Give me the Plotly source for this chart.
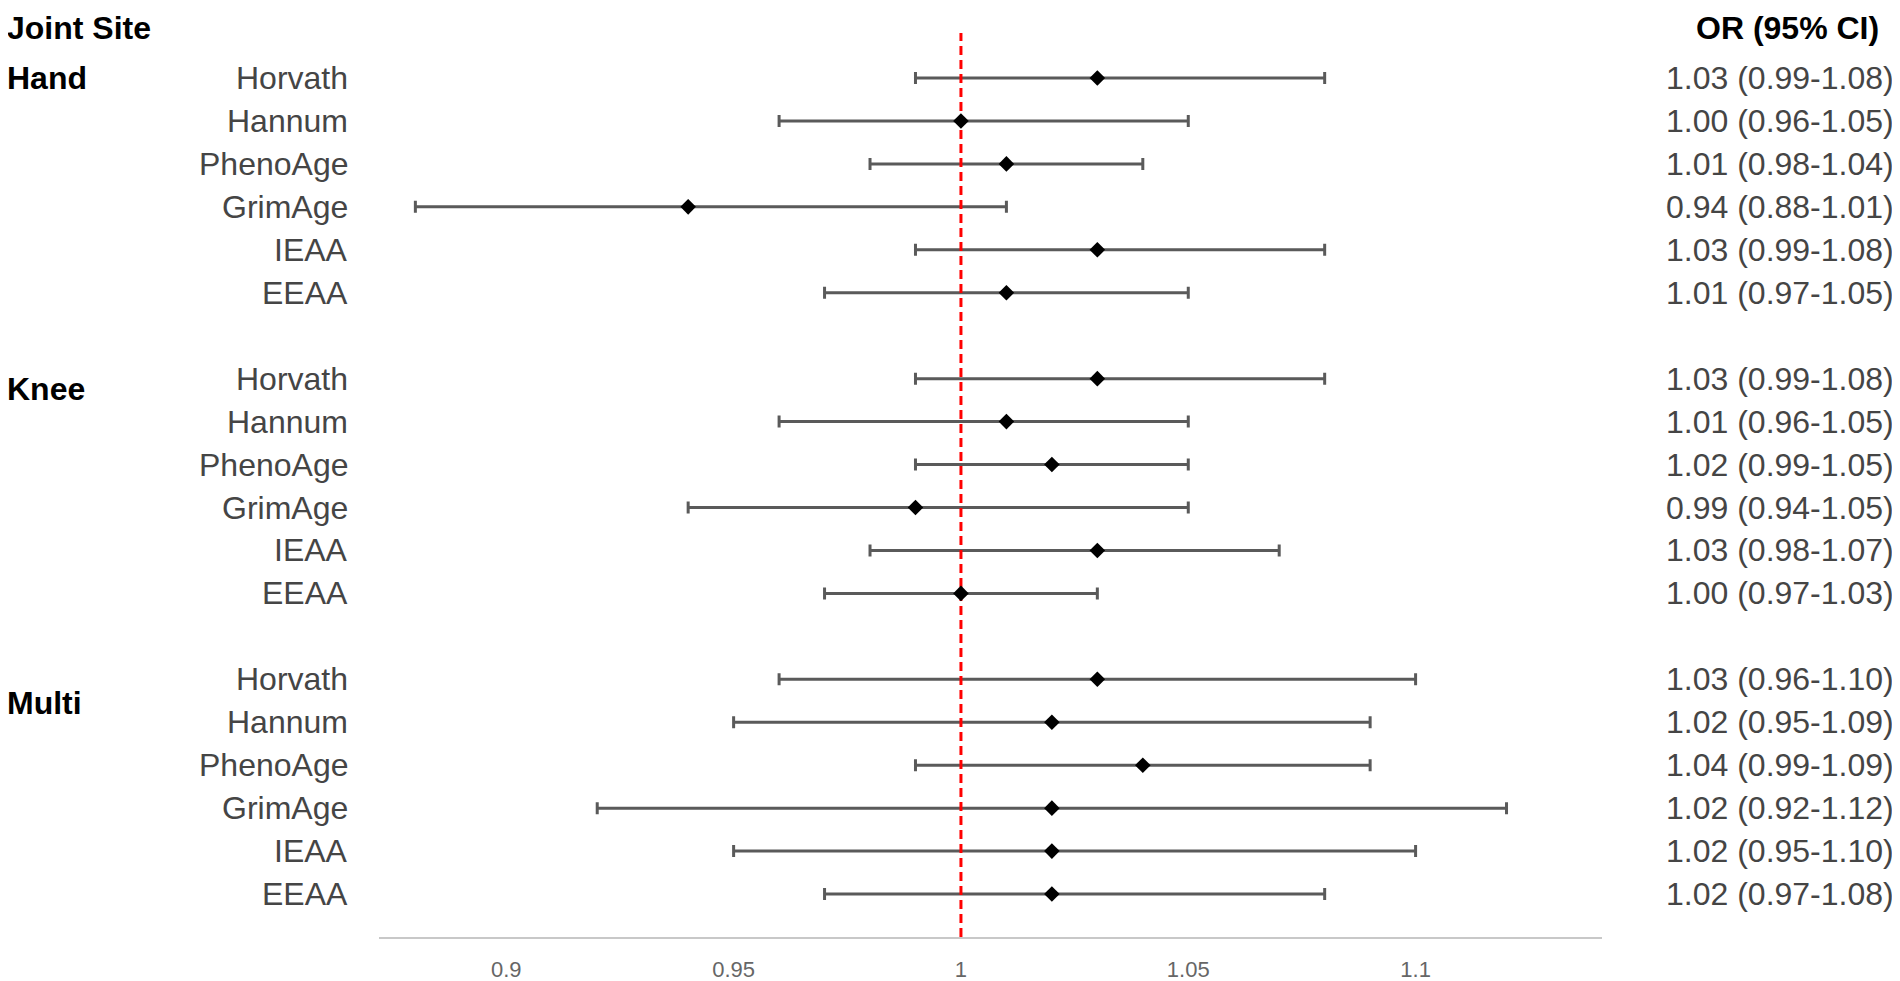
import plotly.graph_objects as go

# ---- data ----
groups = ["Hand", "Knee", "Multi"]
methods = ["Horvath", "Hannum", "PhenoAge", "GrimAge", "IEAA", "EEAA"]
hand_or = [1.03, 1.00, 1.01, 0.94, 1.03, 1.01]
hand_lo = [0.99, 0.96, 0.98, 0.88, 0.99, 0.97]
hand_hi = [1.08, 1.05, 1.04, 1.01, 1.08, 1.05]
knee_or = [1.03, 1.01, 1.02, 0.99, 1.03, 1.00]
knee_lo = [0.99, 0.96, 0.99, 0.94, 0.98, 0.97]
knee_hi = [1.08, 1.05, 1.05, 1.05, 1.07, 1.03]
multi_or = [1.03, 1.02, 1.04, 1.02, 1.02, 1.02]
multi_lo = [0.96, 0.95, 0.99, 0.92, 0.95, 0.97]
multi_hi = [1.10, 1.09, 1.09, 1.12, 1.10, 1.08]
x_ticks = [0.9, 0.95, 1, 1.05, 1.1]
x_tick_labels = ["0.9", "0.95", "1", "1.05", "1.1"]
ref_value = 1.0

series = [(hand_or, hand_lo, hand_hi), (knee_or, knee_lo, knee_hi), (multi_or, multi_lo, multi_hi)]
group_label_offset = [0.0, 0.24, 0.55]

rows, ors, los, his, names, texts = [], [], [], [], [], []
group_rows = []
for g, (o, lo, hi) in enumerate(series):
    start = g * (len(methods) + 1)
    group_rows.append(start + group_label_offset[g])
    for i, m in enumerate(methods):
        rows.append(start + i)
        ors.append(o[i])
        los.append(lo[i])
        his.append(hi[i])
        names.append(m)
        texts.append(f"{o[i]:.2f} ({lo[i]:.2f}-{hi[i]:.2f})")

FONT = "Liberation Sans, Arial, Helvetica, sans-serif"
y_range = [20.0, -1.048]
x_range = [0.872, 1.141]

fig = go.Figure()
# error bars
fig.add_trace(go.Scatter(
    x=ors, y=rows, mode="markers",
    marker=dict(size=1, color="rgba(0,0,0,0)"),
    error_x=dict(type="data", symmetric=False,
                 array=[h - o for h, o in zip(his, ors)],
                 arrayminus=[o - l for o, l in zip(ors, los)],
                 color="#5a5a5a", thickness=3, width=6),
    hoverinfo="skip", showlegend=False))
# reference line
fig.add_trace(go.Scatter(
    x=[ref_value, ref_value], y=y_range, mode="lines",
    line=dict(color="#ff0000", width=3, dash="9px,5px"),
    hoverinfo="skip", showlegend=False))
# point estimates
fig.add_trace(go.Scatter(
    x=ors, y=rows, mode="markers",
    marker=dict(symbol="diamond", size=12, color="black"),
    showlegend=False))

ann = []
for r, n, t in zip(rows, names, texts):
    ann.append(dict(x=0, xref="paper", y=r, yref="y", text=n, showarrow=False,
                    xanchor="right", yanchor="middle", xshift=-29,
                    font=dict(family=FONT, size=32, color="#454545")))
    ann.append(dict(x=1, xref="paper", y=r, yref="y", text=t, showarrow=False,
                    xanchor="right", yanchor="middle", xshift=294,
                    font=dict(family=FONT, size=32, color="#454545")))
for g, gr in zip(groups, group_rows):
    ann.append(dict(x=0, xref="paper", y=gr, yref="y", text=f"<b>{g}</b>", showarrow=False,
                    xanchor="left", yanchor="middle", xshift=-374,
                    font=dict(family=FONT, size=32, color="black")))
ann.append(dict(x=0, xref="paper", y=1, yref="paper", text="<b>Joint Site</b>", showarrow=False,
                xanchor="left", yanchor="top", xshift=-374, yshift=25,
                font=dict(family=FONT, size=32, color="black")))
ann.append(dict(x=1, xref="paper", y=1, yref="paper", text="<b>OR (95% CI)</b>", showarrow=False,
                xanchor="right", yanchor="top", xshift=279, yshift=25,
                font=dict(family=FONT, size=32, color="black")))

fig.update_layout(
    template="none",
    width=1892, height=973,
    margin=dict(l=371, r=298, t=25, b=44),
    paper_bgcolor="white", plot_bgcolor="white",
    annotations=ann,
    xaxis=dict(range=x_range, tickvals=x_ticks, ticktext=x_tick_labels,
               showgrid=False, zeroline=False, showline=True, automargin=False,
               linecolor="#c8c8c8", linewidth=2, ticks="",
               ticklabelstandoff=12,
               tickfont=dict(family=FONT, size=22, color="#666666")),
    yaxis=dict(range=y_range, showgrid=False, zeroline=False, showline=False,
               automargin=False, showticklabels=False, ticks=""),
)
fig.write_html("out.html")
